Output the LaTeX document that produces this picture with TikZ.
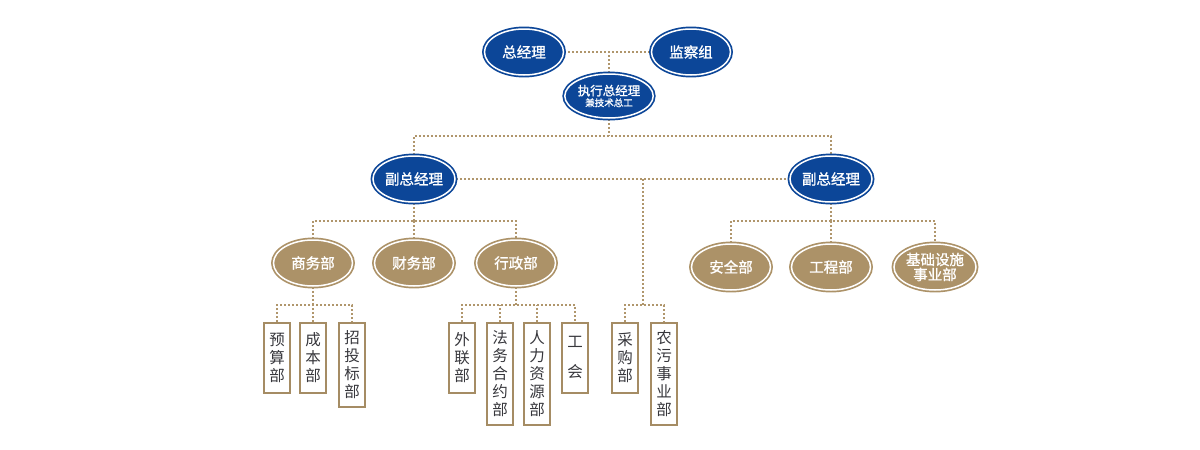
\documentclass[tikz,border=0pt]{standalone}
\usepackage{fontspec}
\usetikzlibrary{shapes.geometric,backgrounds}

\newfontfamily\cjk{Noto Sans CJK SC}
\newfontfamily\cjkbold[FakeBold=1.2]{Noto Sans CJK SC}

\definecolor{orgblue}{RGB}{12,70,152}
\definecolor{orggold}{RGB}{172,146,104}
\definecolor{orgline}{RGB}{176,150,108}
\definecolor{orgbox}{RGB}{165,140,100}
\definecolor{orgtext}{RGB}{55,55,60}

\begin{document}
\begin{tikzpicture}[
    x=1pt, y=-1pt,
    link/.style={orgline, line width=1.9pt, dash pattern=on 1.9pt off 2.1pt},
    boss/.style={ellipse, fill=orgblue, draw=orgblue, double=white,
        double distance=1.5pt, line width=1.7pt, minimum width=79pt,
        minimum height=46pt, inner sep=0pt, align=center, text=white,
        font=\cjkbold\fontsize{14.5}{16}\selectfont},
    dept/.style={boss, fill=orggold, draw=orggold},
    unit/.style={draw=orgbox, line width=1.6pt, fill=white, text=orgtext,
        anchor=north, minimum width=26pt, minimum height=70pt,
        inner xsep=2pt, inner ysep=8pt, align=center,
        font=\cjk\fontsize{15.5}{18}\selectfont}
]

% Page frame
\useasboundingbox (0,0) rectangle (1200,450);

% Top management
\node[boss] (gm) at (524,52) {总经理};
\node[boss] (jcz) at (691,52) {监察组};
\node[boss, minimum width=80pt, minimum height=44pt,
      font=\cjkbold\fontsize{12.5}{14}\selectfont] (exec) at (609,96)
    {执行总经理\\[-3pt]{\fontsize{9.5}{10}\selectfont 兼技术总工}};

% Deputy managers
\node[boss] (vpl) at (414,179) {副总经理};
\node[boss] (vpr) at (831,179) {副总经理};

% Departments
\node[dept] (swb) at (313,263) {商务部};
\node[dept] (cwb) at (414,263) {财务部};
\node[dept] (xzb) at (516,263) {行政部};
\node[dept] (aqb) at (731,267) {安全部};
\node[dept] (gcb) at (831,267) {工程部};
\node[dept, font=\cjkbold\fontsize{14.5}{15}\selectfont] (jcss) at (935,267)
    {基础设施\\事业部};

% Offices
\node[unit] (ysb) at (277,322) {预\\算\\部};
\node[unit] (cbb) at (313,322) {成\\本\\部};
\node[unit] (ztb) at (352,322) {招\\投\\标\\部};
\node[unit] (wlb) at (462,322) {外\\联\\部};
\node[unit] (fwb) at (500,322) {法\\务\\合\\约\\部};
\node[unit] (rlb) at (537,322) {人\\力\\资\\源\\部};
\node[unit] (ghb) at (575,322) {工\\[12pt]会};
\node[unit] (cgb) at (625,322) {采\\购\\部};
\node[unit] (nwb) at (664,322) {农\\污\\事\\业\\部};

% Junctions
\coordinate (b1) at (609,136);
\coordinate (b2) at (414,221);
\coordinate (b3) at (831,221);
\coordinate (b4) at (313,305);
\coordinate (b5) at (516,305);
\coordinate (b6) at (643,305);

% Dotted connectors
\begin{scope}[on background layer]
\draw[link] (gm.east) -- (jcz.west);
\draw[link] (exec.north) -- (exec.north |- gm.east);
\draw[link] (exec.south) -- (b1);
\draw[link] (vpl.north) |- (b1) -| (vpr.north);
\draw[link] (vpl.east) -- (vpr.west);
\draw[link] (b6 |- vpl.east) -- (b6);
\draw[link] (cgb.north) |- (b6) -| (nwb.north);
\draw[link] (vpl.south) -- (b2);
\draw[link] (swb.north) |- (b2) -| (xzb.north);
\draw[link] (cwb.north) -- (b2);
\draw[link] (vpr.south) -- (b3);
\draw[link] (aqb.north) |- (b3) -| (jcss.north);
\draw[link] (gcb.north) -- (b3);
\draw[link] (swb.south) -- (b4);
\draw[link] (ysb.north) |- (b4) -| (ztb.north);
\draw[link] (cbb.north) -- (b4);
\draw[link] (xzb.south) -- (b5);
\draw[link] (wlb.north) |- (b5) -| (ghb.north);
\draw[link] (fwb.north) -- (fwb.north |- b5);
\draw[link] (rlb.north) -- (rlb.north |- b5);
\end{scope}

\end{tikzpicture}
\end{document}
